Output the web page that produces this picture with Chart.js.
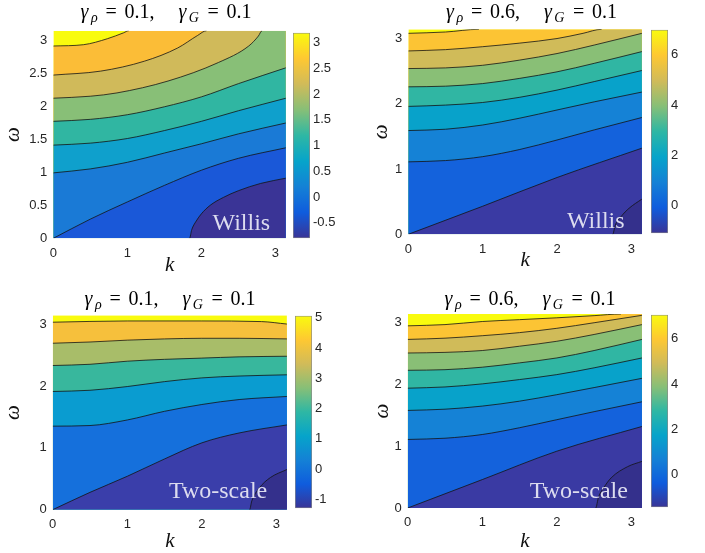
<!DOCTYPE html>
<html>
<head>
<meta charset="utf-8">
<script src="https://cdn.jsdelivr.net/npm/chart.js@4.4.1/dist/chart.umd.min.js"></script>
<style>
  html, body { margin: 0; padding: 0; background: #fff; }
  #page { position: relative; width: 705px; height: 553px; overflow: hidden; }
  .box { position: absolute; }
</style>
</head>
<body>
<div id="page"></div>
<script>
const PI = Math.PI;

// axis ticks
const kTicksStep = 1;
const omegaStepWillis1 = 0.5;
const omegaStep = 1;

// titles / labels
const gammaRho = [0.1, 0.6, 0.1, 0.6];
const gammaG = [0.1, 0.1, 0.1, 0.1];
const methods = ['Willis', 'Willis', 'Two-scale', 'Two-scale'];

// contour levels and colour ranges
const levelsA = [-0.5, 0, 0.5, 1, 1.5, 2, 2.5, 3];
const levelsB = [-1, 0, 1, 2, 3, 4, 5, 6, 7];
const levelsC = [-1, 0, 1, 2, 3, 4, 5];
const levelsD = [-1, 0, 1, 2, 3, 4, 5, 6, 7];
const rangeA = [-0.8, 3.19];
const rangeB = [-1.11, 7.0];
const rangeC = [-1.3, 5.07];
const rangeD = [-1.43, 7.05];
const cbStep = [0.5, 2, 1, 2];

// contour lines, [k, omega] points (one array per level)
const contoursA = [
  [[0,0],[1.84,0],[1.87,0.13],[1.93,0.26],[2.0,0.37],[2.12,0.5],[2.3,0.62],[2.5,0.72],[2.8,0.83],[3.1416,0.91]],
  [[0,0],[0.5,0.29],[1,0.55],[1.5,0.8],[2,1.03],[2.5,1.21],[3.1416,1.37]],
  [[0,0.99],[0.5,1.05],[1,1.15],[1.5,1.29],[2,1.43],[2.5,1.58],[3.1416,1.745]],
  [[0,1.41],[0.5,1.44],[1,1.51],[1.5,1.63],[2,1.77],[2.5,1.93],[3.1416,2.12]],
  [[0,1.77],[0.5,1.8],[1,1.87],[1.5,1.99],[2,2.14],[2.5,2.34],[3.1416,2.58]],
  [[0,2.12],[0.5,2.15],[0.86,2.2],[1.55,2.38],[2.23,2.66],[2.64,2.91],[2.77,3.06],[2.82,3.1416],[3.1416,3.1416]],
  [[0,2.47],[0.64,2.53],[1.23,2.68],[1.68,2.88],[1.95,3.07],[2.07,3.1416],[3.1416,3.1416]],
  [[0,2.91],[0.41,2.93],[0.73,3.02],[0.95,3.11],[1.02,3.1416],[3.1416,3.1416]]
];
const contoursB = [
  [[0,0],[2.75,0],[2.78,0.13],[2.86,0.27],[2.97,0.4],[3.1416,0.54]],
  [[0,0],[1,0.43],[2,0.87],[3.1416,1.32]],
  [[0,1.11],[0.5,1.13],[1,1.19],[1.5,1.3],[2,1.445],[2.5,1.6],[3.1416,1.79]],
  [[0,1.59],[0.5,1.61],[1,1.675],[1.5,1.78],[2,1.905],[2.5,2.03],[3.1416,2.18]],
  [[0,1.96],[0.5,1.98],[1,2.02],[1.5,2.1],[2,2.21],[2.5,2.34],[3.1416,2.51]],
  [[0,2.26],[0.5,2.27],[1,2.31],[1.5,2.39],[2,2.49],[2.5,2.62],[3.1416,2.8]],
  [[0,2.54],[0.5,2.55],[1,2.59],[1.5,2.67],[2,2.77],[2.5,2.9],[3.1416,3.08]],
  [[0,2.81],[0.5,2.83],[1,2.875],[1.5,2.93],[2,3.0],[2.35,3.08],[2.6,3.1416],[3.1416,3.1416]],
  [[0,3.08],[0.5,3.1],[0.95,3.1416],[3.1416,3.1416]]
];
const contoursC = [
  [[0,0],[2.64,0],[2.67,0.14],[2.77,0.35],[2.92,0.52],[3.1416,0.65]],
  [[0,0],[0.5,0.28],[1,0.54],[1.5,0.82],[2,1.08],[2.5,1.24],[3.1416,1.37]],
  [[0,1.35],[0.5,1.36],[1,1.45],[1.5,1.59],[2,1.7],[2.5,1.78],[3.1416,1.83]],
  [[0,1.91],[0.5,1.93],[1,1.99],[1.5,2.07],[2,2.13],[2.5,2.16],[3.1416,2.18]],
  [[0,2.33],[0.5,2.35],[1,2.4],[1.5,2.43],[2,2.45],[2.5,2.47],[3.1416,2.48]],
  [[0,2.69],[0.5,2.71],[1,2.74],[1.5,2.76],[2,2.77],[2.5,2.77],[3.1416,2.76]],
  [[0,3.03],[1,3.05],[2,3.05],[2.8,3.04],[3.1416,3.0]]
];
const contoursD = [
  [[0,0],[2.52,0],[2.56,0.18],[2.63,0.33],[2.73,0.49],[2.95,0.67],[3.1416,0.755]],
  [[0,0],[1,0.46],[2,0.92],[3.1416,1.32]],
  [[0,1.11],[0.5,1.13],[1,1.19],[1.5,1.3],[2,1.43],[2.5,1.56],[3.1416,1.72]],
  [[0,1.58],[0.5,1.6],[1,1.65],[1.5,1.73],[2,1.835],[2.5,1.95],[3.1416,2.1]],
  [[0,1.94],[0.5,1.96],[1,2.01],[1.5,2.08],[2,2.16],[2.5,2.27],[3.1416,2.43]],
  [[0,2.23],[0.5,2.24],[1,2.28],[1.5,2.35],[2,2.43],[2.5,2.55],[3.1416,2.73]],
  [[0,2.51],[0.5,2.52],[1,2.55],[1.5,2.62],[2,2.7],[2.5,2.81],[3.1416,2.97]],
  [[0,2.73],[0.5,2.75],[1,2.79],[1.5,2.84],[2,2.91],[2.5,3.0],[3.1416,3.12]],
  [[0,2.95],[0.5,2.97],[1,3.02],[1.5,3.05],[2,3.08],[2.5,3.115],[2.86,3.1416],[3.1416,3.1416]]
];

// band fill colours, bottom to top
const bandsA = ['#3a3496','#1a58d8','#1a7ad6','#0fa0cc','#30b6a2','#88bf77','#d0ba5a','#fbbd37','#f9fb0e'];
const bandsB = ['#34308c','#3a3aa3','#1462dc','#1582d6','#08a2ca','#30b6a3','#89bf76','#d0bb59','#fcc434','#f9fb0e'];
const bandsC = ['#34308c','#3a3eaa','#1570dc','#0a9cd0','#38b79d','#a8bd69','#f6c03c','#f9fb0e'];
const bandsD = bandsB;
const PARULA = ['#3a3496','#0f5cdd','#1481d6','#06a4ca','#2eb7a4','#87bf77','#d1bb59','#fec832','#f9fb0e'];

// page layout of each panel
const panels = [
  {contours: contoursA, bands: bandsA, range: rangeA, yStep: omegaStepWillis1,
   L: 53.3, R: 285.7, T: 30.7, B: 238.3, wx: 13.3, ky: 265, tb: 18.3, tc: 166, lab: [15.7, 8.3], cb: [293.3, 310, 31.7, 238.3]},
  {contours: contoursB, bands: bandsB, range: rangeB, yStep: omegaStep,
   L: 408.3, R: 642.3, T: 29.3, B: 234.3, wx: 381.7, ky: 260, tb: 18.3, tc: 531.5, lab: [17.3, 6], cb: [651, 668.3, 29.3, 234.3]},
  {contours: contoursC, bands: bandsC, range: rangeC, yStep: omegaStep,
   L: 52.7, R: 286.7, T: 315.3, B: 509.7, wx: 14, ky: 541, tb: 305, tc: 170, lab: [19.7, 11.7], cb: [295, 312.3, 315.3, 509.7]},
  {contours: contoursD, bands: bandsD, range: rangeD, yStep: omegaStep,
   L: 407.7, R: 642.3, T: 314, B: 508, wx: 382.5, ky: 541, tb: 304.7, tc: 530, lab: [14, 10], cb: [650.7, 667.7, 314, 508]}
];

Chart.defaults.font.family = '"Liberation Sans", Arial, sans-serif';
Chart.defaults.font.size = 13;
Chart.defaults.color = '#262626';

const page = document.getElementById('page');

function makeCanvas(left, top, w, h) {
  const d = document.createElement('div');
  d.className = 'box';
  d.style.left = left + 'px';
  d.style.top = top + 'px';
  d.style.width = w + 'px';
  d.style.height = h + 'px';
  const c = document.createElement('canvas');
  c.width = w; c.height = h;
  d.appendChild(c);
  page.appendChild(d);
  return c;
}

function onEdge(ctx) {
  const a = ctx.p0.parsed.y, b = ctx.p1.parsed.y;
  return (a <= 0 && b <= 0) || (a >= 3.14 && b >= 3.14);
}

function tickText(v) {
  return String(Math.round(v * 100) / 100);
}

function drawTitle(ctx, cx, base, rho, g) {
  const F = '20px "Liberation Serif"', I = 'italic 20px "Liberation Serif"', S = 'italic 14px "Liberation Serif"';
  const parts = [
    ['γ', I, 0, 2.5], ['ρ', S, 4, 7.7], ['=', F, 0, 7.7], [rho.toFixed(1) + ',', F, 0, 24],
    ['γ', I, 0, 2.5], ['G', S, 4, 8.5], ['=', F, 0, 7.7], [g.toFixed(1), F, 0, 0]
  ];
  let w = 0;
  parts.forEach(p => { ctx.font = p[1]; p.push(ctx.measureText(p[0]).width); w += p[4] + p[3]; });
  let x = cx - w / 2;
  ctx.fillStyle = '#000';
  ctx.textAlign = 'left';
  ctx.textBaseline = 'alphabetic';
  parts.forEach(p => { ctx.font = p[1]; ctx.fillText(p[0], x, base + p[2]); x += p[4] + p[3]; });
}

panels.forEach((p, idx) => {
  const divLeft = Math.round(p.wx - 12.6);
  const divTop = Math.round(p.T) - 34;
  const W = Math.round(p.R - divLeft);
  const H = Math.round(p.ky + 12.6 - divTop);
  const padTop = p.T - divTop;
  const yW = p.L - divLeft;
  const xH = H - padTop - (p.B - p.T);
  const n = p.contours.length;

  // filled bands: each level fills down to the bottom, upper ones painted first
  const datasets = p.contours.map((c, i) => ({
    data: c.map(pt => ({x: pt[0], y: pt[1]})),
    borderWidth: 0,
    borderColor: 'rgba(0,0,0,0)',
    backgroundColor: p.bands[i],
    fill: 'start',
    pointRadius: 0,
    cubicInterpolationMode: 'monotone'
  }));
  datasets.push({
    data: [{x: 0, y: PI}, {x: PI, y: PI}],
    borderWidth: 0,
    borderColor: 'rgba(0,0,0,0)',
    backgroundColor: p.bands[n],
    fill: 'start',
    pointRadius: 0
  });
  // the contour lines themselves
  p.contours.forEach(c => {
    datasets.push({
      data: c.map(pt => ({x: pt[0], y: pt[1]})),
      borderColor: '#141414',
      borderWidth: 0.8,
      fill: false,
      pointRadius: 0,
      cubicInterpolationMode: 'monotone',
      segment: { borderColor: ctx => onEdge(ctx) ? 'rgba(0,0,0,0)' : undefined }
    });
  });

  const decor = {
    id: 'decor' + idx,
    afterDraw(chart) {
      const ctx = chart.ctx, a = chart.chartArea;
      ctx.save();
      ctx.font = '24px "Liberation Serif"';
      ctx.fillStyle = '#dcdcef';
      ctx.textAlign = 'right';
      ctx.textBaseline = 'alphabetic';
      ctx.fillText(methods[idx], a.right - p.lab[0], a.bottom - p.lab[1]);
      drawTitle(ctx, p.tc - divLeft, p.tb - divTop, gammaRho[idx], gammaG[idx]);
      ctx.restore();
    }
  };

  new Chart(makeCanvas(divLeft, divTop, W, H), {
    type: 'line',
    data: { datasets: datasets },
    plugins: [decor],
    options: {
      responsive: false,
      animation: false,
      layout: { padding: {top: padTop, left: 0, right: 0, bottom: 0}, autoPadding: false },
      plugins: {
        legend: { display: false },
        tooltip: { enabled: false },
        filler: { drawTime: 'beforeDatasetsDraw', propagate: false }
      },
      scales: {
        x: {
          type: 'linear', min: 0, max: PI,
          grid: { display: false, drawTicks: false },
          border: { display: false },
          ticks: { stepSize: kTicksStep, includeBounds: false, padding: 7, maxRotation: 0, callback: tickText },
          title: { display: true, text: 'k', color: '#111', padding: 0,
                   font: { family: '"Liberation Serif"', style: 'italic', size: 21 } },
          afterFit: s => { s.height = xH; }
        },
        y: {
          type: 'linear', min: 0, max: PI,
          grid: { display: false, drawTicks: false },
          border: { display: false },
          ticks: { stepSize: p.yStep, includeBounds: false, padding: 6, callback: tickText },
          title: { display: true, text: 'ω', color: '#111', padding: 0,
                   font: { family: '"Liberation Serif"', style: 'italic', size: 21 } },
          afterFit: s => { s.width = yW; }
        }
      }
    }
  });

  // colour bar
  const cbLeft = Math.round(p.cb[0]);
  const cbTop = Math.round(p.cb[2]) - 10;
  const cbW = Math.round(p.cb[1] - p.cb[0]) + 40;
  const cbH = Math.round(p.cb[3] - p.cb[2]) + 20;
  new Chart(makeCanvas(cbLeft, cbTop, cbW, cbH), {
    type: 'bar',
    data: {
      labels: [''],
      datasets: [{
        data: [[p.range[0], p.range[1]]],
        backgroundColor: c => {
          const a = c.chart.chartArea;
          if (!a) return PARULA[0];
          const g = c.chart.ctx.createLinearGradient(0, a.bottom, 0, a.top);
          PARULA.forEach((col, i) => g.addColorStop(i / (PARULA.length - 1), col));
          return g;
        },
        borderColor: '#8a8a8a',
        borderWidth: 1,
        borderSkipped: false,
        barPercentage: 1,
        categoryPercentage: 1
      }]
    },
    options: {
      responsive: false,
      animation: false,
      layout: { padding: {top: 10, bottom: 10, left: 0, right: 0}, autoPadding: false },
      plugins: { legend: { display: false }, tooltip: { enabled: false } },
      scales: {
        x: { display: false },
        y: {
          position: 'right', min: p.range[0], max: p.range[1],
          grid: { display: false, drawTicks: false },
          border: { display: false },
          ticks: { stepSize: cbStep[idx], includeBounds: false, padding: 3, callback: tickText },
          afterFit: s => { s.width = 40; }
        }
      }
    }
  });
});
</script>
</body>
</html>
